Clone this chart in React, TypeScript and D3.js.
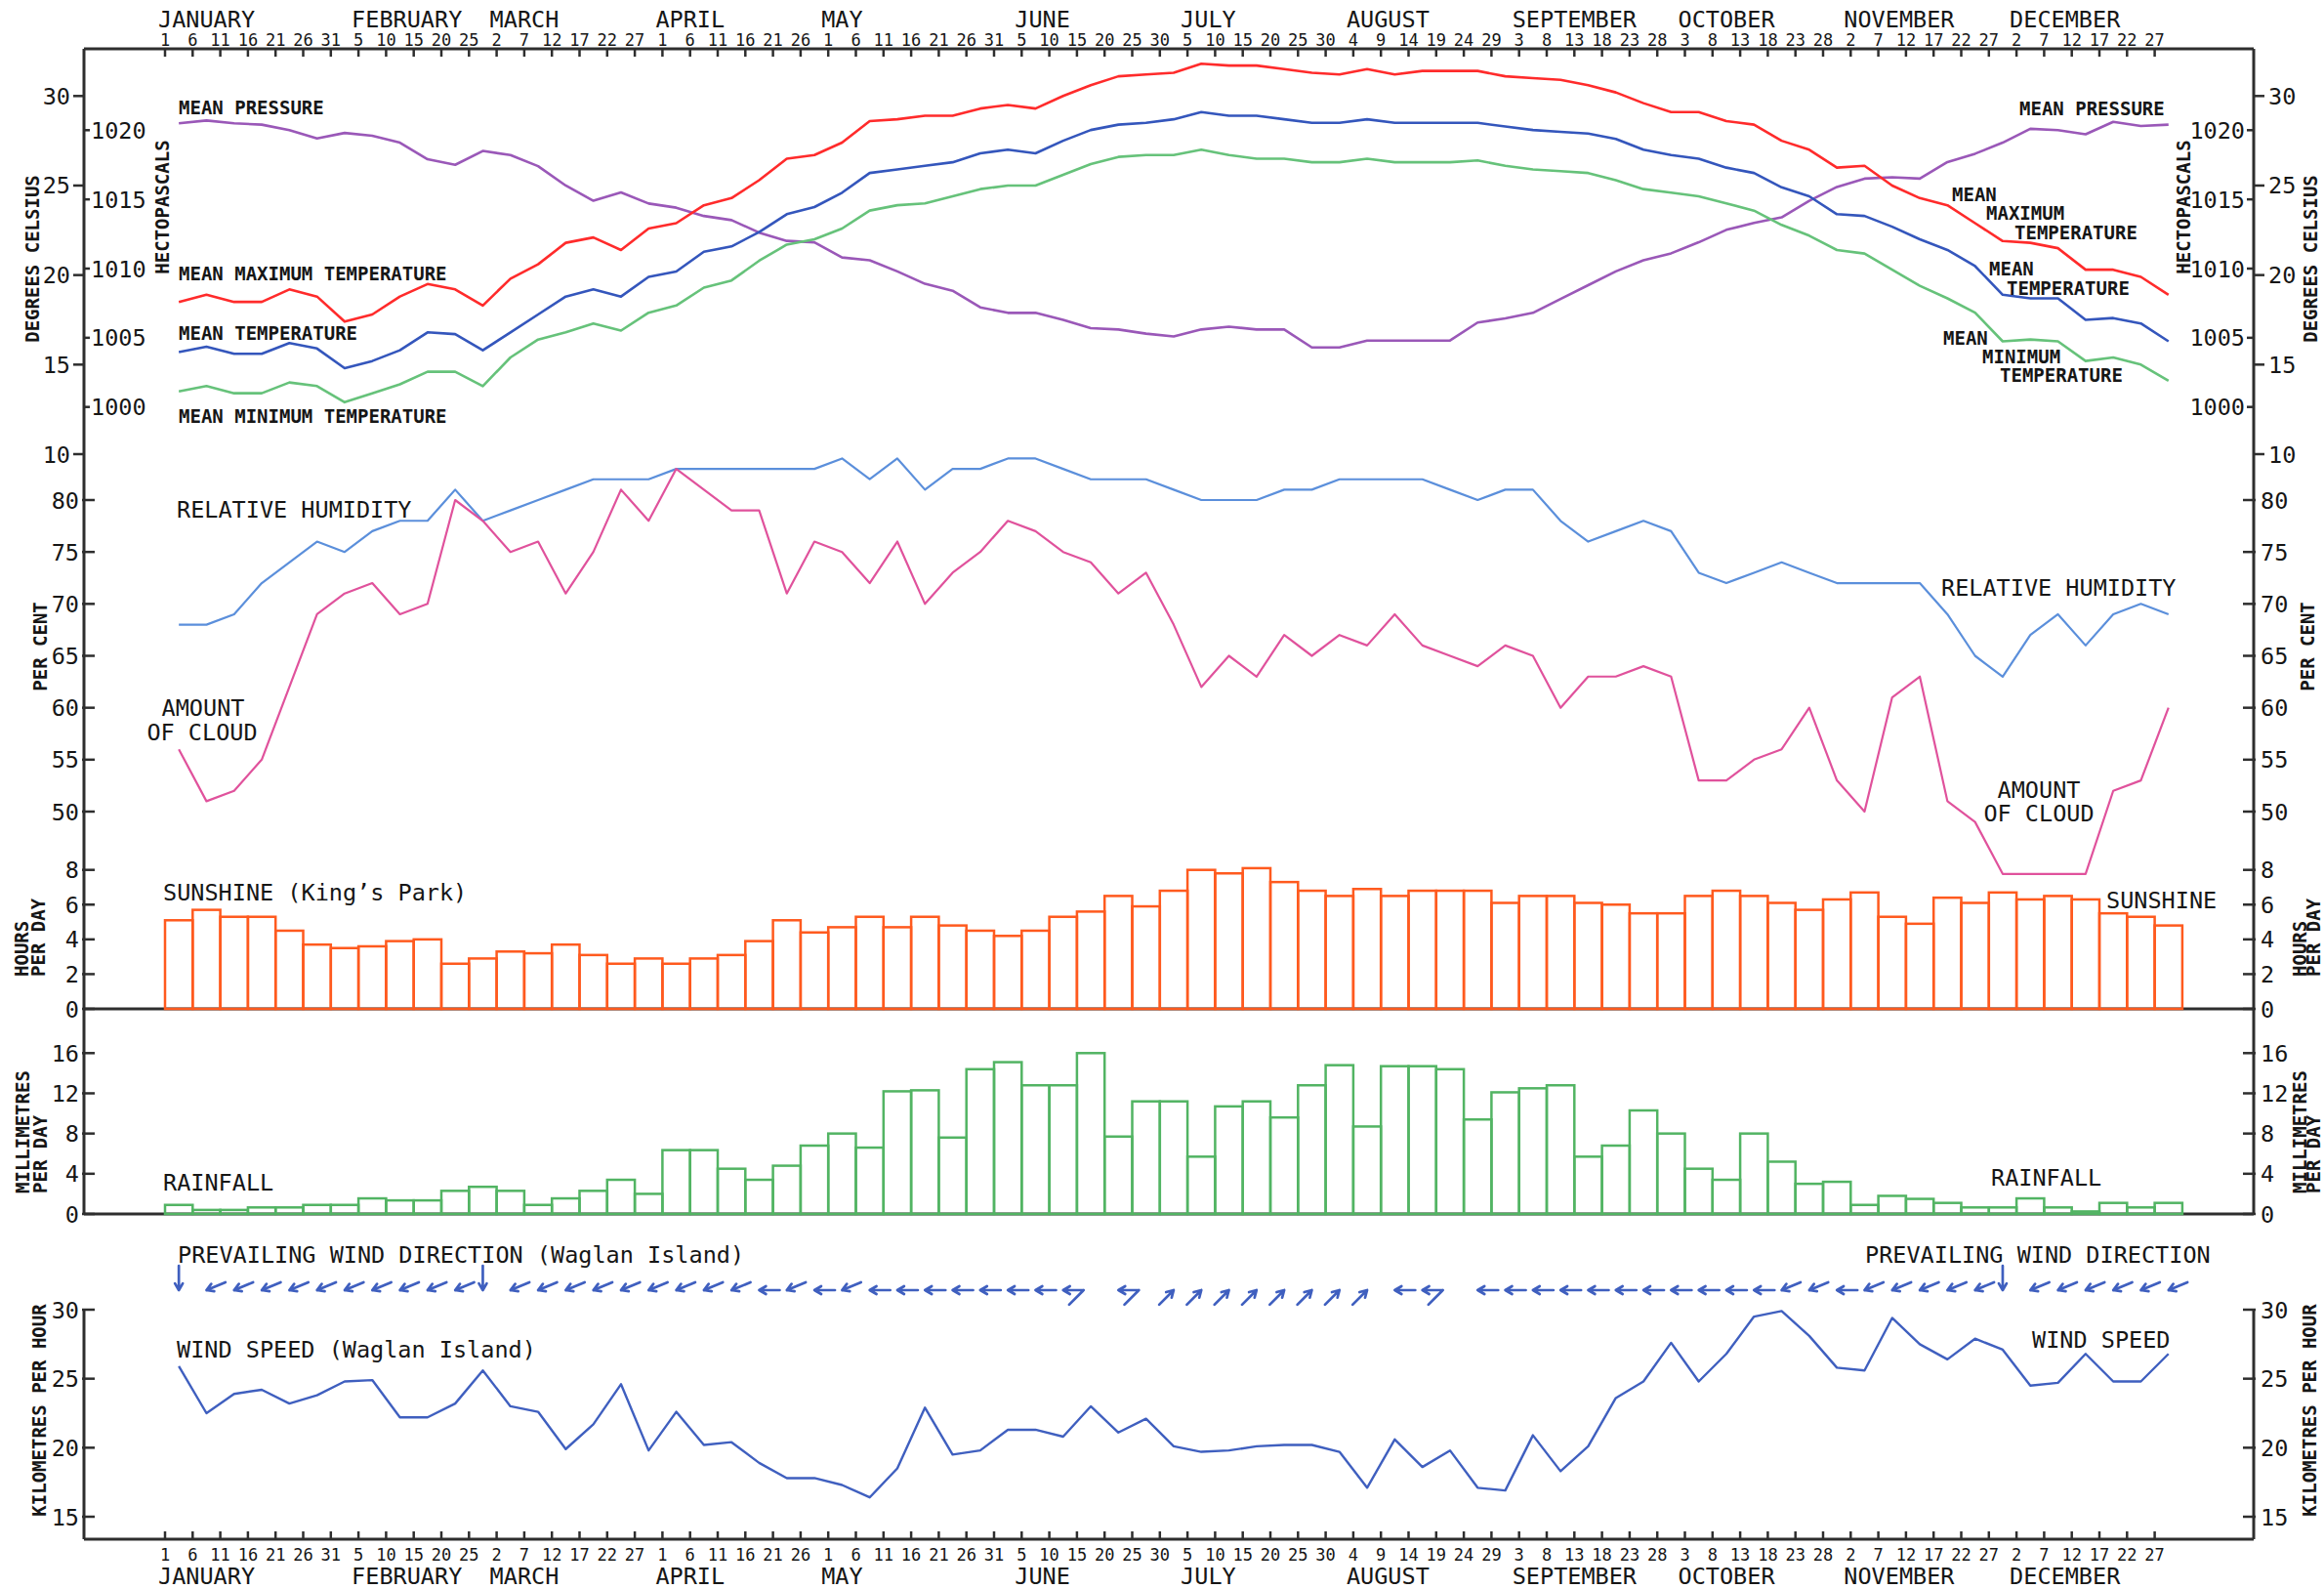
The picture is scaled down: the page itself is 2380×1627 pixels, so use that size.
import React from 'react';
import * as d3 from 'd3';

// pentad climatology, 73 five-day periods
const months = ['JANUARY', 'FEBRUARY', 'MARCH', 'APRIL', 'MAY', 'JUNE', 'JULY', 'AUGUST', 'SEPTEMBER', 'OCTOBER', 'NOVEMBER', 'DECEMBER'];
const monthFirstTick = [0, 7, 12, 18, 24, 31, 37, 43, 49, 55, 61, 67];
const tickDays = [
  1, 6, 11, 16, 21, 26, 31, 5, 10, 15, 20, 25, 2, 7, 12, 17, 22, 27, 1, 6, 11, 16, 21, 26,
  1, 6, 11, 16, 21, 26, 31, 5, 10, 15, 20, 25, 30, 5, 10, 15, 20, 25, 30, 4, 9, 14, 19, 24, 29,
  3, 8, 13, 18, 23, 28, 3, 8, 13, 18, 23, 28, 2, 7, 12, 17, 22, 27, 2, 7, 12, 17, 22, 27,
];

const meanMaxTemp = [
  18.5, 18.9, 18.5, 18.5, 19.2, 18.8, 17.4, 17.8, 18.8, 19.5, 19.2, 18.3, 19.8, 20.6, 21.8, 22.1, 21.4, 22.6, 22.9, 23.9,
  24.3, 25.3, 26.5, 26.7, 27.4, 28.6, 28.7, 28.9, 28.9, 29.3, 29.5, 29.3, 30.0, 30.6, 31.1, 31.2, 31.3, 31.8, 31.7, 31.7,
  31.5, 31.3, 31.2, 31.5, 31.2, 31.4, 31.4, 31.4, 31.1, 31.0, 30.9, 30.6, 30.2, 29.6, 29.1, 29.1, 28.6, 28.4, 27.5, 27.0,
  26.0, 26.1, 25.0, 24.3, 23.9, 22.9, 21.9, 21.8, 21.5, 20.3, 20.3, 19.9, 18.9,
];
const meanTemp = [
  15.7, 16.0, 15.6, 15.6, 16.2, 15.9, 14.8, 15.2, 15.8, 16.8, 16.7, 15.8, 16.8, 17.8, 18.8, 19.2, 18.8, 19.9, 20.2, 21.3,
  21.6, 22.4, 23.4, 23.8, 24.6, 25.7, 25.9, 26.1, 26.3, 26.8, 27.0, 26.8, 27.5, 28.1, 28.4, 28.5, 28.7, 29.1, 28.9, 28.9,
  28.7, 28.5, 28.5, 28.7, 28.5, 28.5, 28.5, 28.5, 28.3, 28.1, 28.0, 27.9, 27.6, 27.0, 26.7, 26.5, 26.0, 25.7, 24.9, 24.4,
  23.4, 23.3, 22.7, 22.0, 21.4, 20.5, 18.9, 18.7, 18.7, 17.5, 17.6, 17.3, 16.3,
];
const meanMinTemp = [
  13.5, 13.8, 13.4, 13.4, 14.0, 13.8, 12.9, 13.4, 13.9, 14.6, 14.6, 13.8, 15.4, 16.4, 16.8, 17.3, 16.9, 17.9, 18.3, 19.3,
  19.7, 20.8, 21.7, 22.0, 22.6, 23.6, 23.9, 24.0, 24.4, 24.8, 25.0, 25.0, 25.6, 26.2, 26.6, 26.7, 26.7, 27.0, 26.7, 26.5,
  26.5, 26.3, 26.3, 26.5, 26.3, 26.3, 26.3, 26.4, 26.1, 25.9, 25.8, 25.7, 25.3, 24.8, 24.6, 24.4, 24.0, 23.6, 22.8, 22.2,
  21.4, 21.2, 20.3, 19.4, 18.7, 17.9, 16.3, 16.4, 16.3, 15.2, 15.4, 15.0, 14.1,
];
const meanPressure = [
  1020.5, 1020.7, 1020.5, 1020.4, 1020.0, 1019.4, 1019.8, 1019.6, 1019.1, 1017.9, 1017.5, 1018.5, 1018.2, 1017.4, 1016.0,
  1014.9, 1015.5, 1014.7, 1014.4, 1013.8, 1013.5, 1012.6, 1012.0, 1011.9, 1010.8, 1010.6, 1009.8, 1008.9, 1008.4, 1007.2,
  1006.8, 1006.8, 1006.3, 1005.7, 1005.6, 1005.3, 1005.1, 1005.6, 1005.8, 1005.6, 1005.6, 1004.3, 1004.3, 1004.8, 1004.8,
  1004.8, 1004.8, 1006.1, 1006.4, 1006.8, 1007.8, 1008.8, 1009.8, 1010.6, 1011.1, 1011.9, 1012.8, 1013.3, 1013.7, 1014.9,
  1015.9, 1016.5, 1016.6, 1016.5, 1017.7, 1018.3, 1019.1, 1020.1, 1020.0, 1019.7, 1020.6, 1020.3, 1020.4,
];
const relHumidity = [
  68, 68, 69, 72, 74, 76, 75, 77, 78, 78, 81, 78, 79, 80, 81, 82, 82, 82, 83, 83, 83, 83, 83, 83, 84, 82, 84, 81, 83, 83,
  84, 84, 83, 82, 82, 82, 81, 80, 80, 80, 81, 81, 82, 82, 82, 82, 81, 80, 81, 81, 78, 76, 77, 78, 77, 73, 72, 73, 74, 73,
  72, 72, 72, 72, 69, 65, 63, 67, 69, 66, 69, 70, 69,
];
const cloudAmount = [
  56, 51, 52, 55, 62, 69, 71, 72, 69, 70, 80, 78, 75, 76, 71, 75, 81, 78, 83, 81, 79, 79, 71, 76, 75, 72, 76, 70, 73, 75,
  78, 77, 75, 74, 71, 73, 68, 62, 65, 63, 67, 65, 67, 66, 69, 66, 65, 64, 66, 65, 60, 63, 63, 64, 63, 53, 53, 55, 56, 60,
  53, 50, 61, 63, 51, 49, 44, 44, 44, 44, 52, 53, 60,
];
const sunshine = [
  5.1, 5.7, 5.3, 5.3, 4.5, 3.7, 3.5, 3.6, 3.9, 4.0, 2.6, 2.9, 3.3, 3.2, 3.7, 3.1, 2.6, 2.9, 2.6, 2.9, 3.1, 3.9, 5.1, 4.4,
  4.7, 5.3, 4.7, 5.3, 4.8, 4.5, 4.2, 4.5, 5.3, 5.6, 6.5, 5.9, 6.8, 8.0, 7.8, 8.1, 7.3, 6.8, 6.5, 6.9, 6.5, 6.8, 6.8, 6.8,
  6.1, 6.5, 6.5, 6.1, 6.0, 5.5, 5.5, 6.5, 6.8, 6.5, 6.1, 5.7, 6.3, 6.7, 5.3, 4.9, 6.4, 6.1, 6.7, 6.3, 6.5, 6.3, 5.5, 5.3, 4.8,
];
const rainfall = [
  0.9, 0.4, 0.4, 0.65, 0.65, 0.9, 0.9, 1.55, 1.35, 1.35, 2.3, 2.7, 2.3, 0.9, 1.55, 2.3, 3.4, 2.0, 6.35, 6.35, 4.5, 3.4,
  4.8, 6.8, 8.0, 6.6, 12.2, 12.3, 7.6, 14.4, 15.1, 12.8, 12.8, 16.0, 7.7, 11.2, 11.2, 5.7, 10.7, 11.2, 9.6, 12.8, 14.8,
  8.7, 14.7, 14.7, 14.4, 9.4, 12.1, 12.5, 12.8, 5.7, 6.8, 10.3, 8.0, 4.5, 3.4, 8.0, 5.2, 3.0, 3.2, 0.9, 1.8, 1.5, 1.1,
  0.65, 0.65, 1.55, 0.65, 0.25, 1.1, 0.65, 1.1,
];
const windSpeed = [
  25.9, 22.5, 23.9, 24.2, 23.2, 23.8, 24.8, 24.9, 22.2, 22.2, 23.2, 25.6, 23.0, 22.6, 19.9, 21.7, 24.6, 19.8, 22.6, 20.2,
  20.4, 18.9, 17.8, 17.8, 17.3, 16.4, 18.5, 22.9, 19.5, 19.8, 21.3, 21.3, 20.8, 23.0, 21.1, 22.1, 20.1, 19.7, 19.8, 20.1,
  20.2, 20.2, 19.7, 17.1, 20.6, 18.6, 19.8, 17.1, 16.9, 20.9, 18.3, 20.1, 23.6, 24.8, 27.6, 24.8, 26.8, 29.5, 29.9, 28.1,
  25.8, 25.6, 29.4, 27.5, 26.4, 27.9, 27.1, 24.5, 24.7, 26.8, 24.8, 24.8, 26.8,
];
const windDir = [
  'N', 'ENE', 'ENE', 'ENE', 'ENE', 'ENE', 'ENE', 'ENE', 'ENE', 'ENE', 'ENE', 'N',
  'ENE', 'ENE', 'ENE', 'ENE', 'ENE', 'ENE', 'ENE', 'ENE', 'ENE', 'E', 'ENE', 'E', 'ENE',
  'E', 'E', 'E', 'E', 'E', 'E', 'E', 'E/SW', '', 'E/SW', '',
  'SW', 'SW', 'SW', 'SW', 'SW', 'SW', 'SW', 'SW', 'E', 'E/SW', '',
  'E', 'E', 'E', 'E', 'E', 'E', 'E', 'E', 'E', 'E', 'E', 'ENE', 'ENE', 'E', 'ENE', 'ENE', 'ENE', 'ENE', 'ENE',
  'N', 'ENE', 'ENE', 'ENE', 'ENE', 'ENE', 'ENE',
];
const compass: Record<string, number> = { N: 0, ENE: 67.5, E: 90, SW: 225 };

const celsiusTicks = [10, 15, 20, 25, 30];
const hpaTicks = [1000, 1005, 1010, 1015, 1020];
const humidityTicks = [50, 55, 60, 65, 70, 75, 80];
const sunTicks = [0, 2, 4, 6, 8];
const rainTicks = [0, 4, 8, 12, 16];
const windTicks = [15, 20, 25, 30];

const FONT = "'DejaVu Sans Mono', 'Liberation Mono', monospace";
const INK = '#161616';
const AXIS = '#2e2e2e';
const LEFT = 86;
const RIGHT = 2308;
const BIG = 23.5;
const SMALL = 19;

const x = d3.scaleLinear().domain([0, 73]).range([169, 169 + 73 * 28.3]);
const mid = (i: number) => x(i + 0.5);
const barW = x(1) - x(0);

const yC = d3.scaleLinear().domain([10, 30]).range([465, 98.3]);
const yP = d3.scaleLinear().domain([1000, 1020]).range([416.7, 133.3]);
const yH = d3.scaleLinear().domain([50, 80]).range([831, 512]);
const yS = d3.scaleLinear().domain([0, 8]).range([1033, 890.7]);
const yR = d3.scaleLinear().domain([0, 16]).range([1243, 1078.3]);
const yW = d3.scaleLinear().domain([15, 30]).range([1553, 1341]);

const seriesPath = (data: number[], y: d3.ScaleLinear<number, number>) =>
  d3.line<number>().x((_, i) => mid(i)).y(d => y(d))(data) || '';

function T({ x, y, children, size = BIG, bold = false, anchor = 'start' }: any) {
  return (
    <text x={x} y={y} fontSize={size} fontWeight={bold ? 'bold' : 'normal'} textAnchor={anchor} fontFamily={FONT} fill={INK}>
      {children}
    </text>
  );
}

function VT({ x, y, children, anchor = 'middle' }: any) {
  return (
    <text transform={`translate(${x + 7},${y}) rotate(-90)`} fontSize={SMALL} fontWeight="bold" textAnchor={anchor} fontFamily={FONT} fill={INK}>
      {children}
    </text>
  );
}

// tick marks + labels for one vertical scale on one side
function YTicks({ scale, ticks, x1, x2, lx, anchor }: any) {
  return (
    <g>
      {ticks.map((t: number) => (
        <g key={t}>
          <line x1={x1} x2={x2} y1={scale(t)} y2={scale(t)} stroke={AXIS} strokeWidth={2.5} />
          <T x={lx} y={scale(t) + 8.5} anchor={anchor}>{t}</T>
        </g>
      ))}
    </g>
  );
}

function arrow(px: number, py: number, deg: number, len: number) {
  const r = (deg * Math.PI) / 180;
  const vx = -Math.sin(r);
  const vy = Math.cos(r);
  const tx = px - len * vx;
  const ty = py - len * vy;
  const hb = 8;
  const a = Math.PI / 6;
  const bx = -vx;
  const by = -vy;
  const b1x = px + hb * (bx * Math.cos(a) - by * Math.sin(a));
  const b1y = py + hb * (bx * Math.sin(a) + by * Math.cos(a));
  const b2x = px + hb * (bx * Math.cos(-a) - by * Math.sin(-a));
  const b2y = py + hb * (bx * Math.sin(-a) + by * Math.cos(-a));
  return { d: `M${tx},${ty}L${px},${py}M${b1x},${b1y}L${px},${py}L${b2x},${b2y}`, tx, ty };
}

function WindArrows() {
  const py = 1321;
  return (
    <g stroke="#3f5fbf" strokeWidth={2.7} fill="none" strokeLinecap="round" strokeLinejoin="round">
      {windDir.map((d, i) => {
        if (!d) return null;
        const parts = d.split('/');
        const first = arrow(mid(i), py, compass[parts[0]], parts[0] === 'N' ? 25 : 21);
        let extra = '';
        if (parts[1]) {
          const r = (compass[parts[1]] * Math.PI) / 180;
          const ux = Math.sin(r);
          const uy = -Math.cos(r);
          extra = `M${first.tx},${first.ty}L${first.tx + 21 * ux},${first.ty + 21 * uy}`;
        }
        return <path key={i} d={first.d + extra} />;
      })}
    </g>
  );
}

function Bars({ data, y, color }: any) {
  return (
    <g fill="none" stroke={color} strokeWidth={2.5}>
      {data.map((v: number, i: number) => (
        <rect key={i} x={x(i)} y={y(v)} width={barW} height={y(0) - y(v)} />
      ))}
    </g>
  );
}

function TimeAxis({ y, dir, dayY, monY }: any) {
  return (
    <g>
      <line x1={LEFT} x2={RIGHT} y1={y} y2={y} stroke={AXIS} strokeWidth={3} />
      {tickDays.map((d, i) => (
        <g key={i}>
          <line x1={x(i)} x2={x(i)} y1={y} y2={y + dir * 8} stroke={AXIS} strokeWidth={2.5} />
          <T x={x(i)} y={dayY} size={17} anchor="middle">{d}</T>
        </g>
      ))}
      {months.map((m, k) => (
        <T key={m} x={x(monthFirstTick[k]) - 7} y={monY}>{m}</T>
      ))}
    </g>
  );
}

export default function App() {
  return (
    <svg width={2380} height={1627} style={{ position: 'absolute', left: 0, top: 0, background: '#fff' }}>
      <rect width={2380} height={1627} fill="#fff" />

      {/* frame */}
      <g stroke={AXIS} strokeWidth={3}>
        <line x1={LEFT} x2={LEFT} y1={50} y2={1243} />
        <line x1={RIGHT} x2={RIGHT} y1={50} y2={1243} />
        <line x1={LEFT} x2={LEFT} y1={1341} y2={1576} />
        <line x1={RIGHT} x2={RIGHT} y1={1341} y2={1576} />
        <line x1={LEFT} x2={RIGHT} y1={1033} y2={1033} />
        <line x1={LEFT} x2={RIGHT} y1={1243} y2={1243} />
      </g>
      <TimeAxis y={50} dir={1} dayY={47} monY={28} />
      <TimeAxis y={1576} dir={-1} dayY={1598} monY={1622} />

      {/* temperature and pressure */}
      <YTicks scale={yC} ticks={celsiusTicks} x1={75} x2={LEFT} lx={72} anchor="end" />
      <YTicks scale={yP} ticks={hpaTicks} x1={LEFT} x2={92} lx={93} anchor="start" />
      <YTicks scale={yP} ticks={hpaTicks} x1={2301} x2={RIGHT} lx={2299} anchor="end" />
      <YTicks scale={yC} ticks={celsiusTicks} x1={RIGHT} x2={2319} lx={2323} anchor="start" />
      <VT x={33} y={265}>DEGREES CELSIUS</VT>
      <VT x={166} y={212}>HECTOPASCALS</VT>
      <VT x={2236} y={212}>HECTOPASCALS</VT>
      <VT x={2366} y={265}>DEGREES CELSIUS</VT>

      <g fill="none" strokeWidth={2.6} strokeLinejoin="round">
        <path d={seriesPath(meanPressure, yP)} stroke="#9a58b8" />
        <path d={seriesPath(meanMaxTemp, yC)} stroke="#ff2b2b" />
        <path d={seriesPath(meanTemp, yC)} stroke="#3456bc" />
        <path d={seriesPath(meanMinTemp, yC)} stroke="#66c27a" />
      </g>
      <T x={183} y={117} size={SMALL} bold>MEAN PRESSURE</T>
      <T x={183} y={287} size={SMALL} bold>MEAN MAXIMUM TEMPERATURE</T>
      <T x={183} y={348} size={SMALL} bold>MEAN TEMPERATURE</T>
      <T x={183} y={433} size={SMALL} bold>MEAN MINIMUM TEMPERATURE</T>
      <T x={2068} y={118} size={SMALL} bold>MEAN PRESSURE</T>
      <T x={1999} y={206} size={SMALL} bold>MEAN</T>
      <T x={2034} y={225} size={SMALL} bold>MAXIMUM</T>
      <T x={2063} y={245} size={SMALL} bold>TEMPERATURE</T>
      <T x={2037} y={282} size={SMALL} bold>MEAN</T>
      <T x={2055} y={302} size={SMALL} bold>TEMPERATURE</T>
      <T x={1990} y={353} size={SMALL} bold>MEAN</T>
      <T x={2030} y={372} size={SMALL} bold>MINIMUM</T>
      <T x={2048} y={391} size={SMALL} bold>TEMPERATURE</T>

      {/* humidity and cloud */}
      <YTicks scale={yH} ticks={humidityTicks} x1={LEFT - 2} x2={97} lx={81} anchor="end" />
      <YTicks scale={yH} ticks={humidityTicks} x1={2297} x2={RIGHT + 2} lx={2315} anchor="start" />
      <VT x={41} y={662}>PER CENT</VT>
      <VT x={2363} y={662}>PER CENT</VT>
      <g fill="none" strokeWidth={2.2} strokeLinejoin="round">
        <path d={seriesPath(relHumidity, yH)} stroke="#5b8fdb" />
        <path d={seriesPath(cloudAmount, yH)} stroke="#e0529c" />
      </g>
      <T x={181} y={530}>RELATIVE HUMIDITY</T>
      <T x={1988} y={610}>RELATIVE HUMIDITY</T>
      <T x={208} y={733} anchor="middle">AMOUNT</T>
      <T x={207} y={758} anchor="middle">OF CLOUD</T>
      <T x={2088} y={817} anchor="middle">AMOUNT</T>
      <T x={2088} y={841} anchor="middle">OF CLOUD</T>

      {/* sunshine */}
      <YTicks scale={yS} ticks={sunTicks} x1={LEFT - 2} x2={97} lx={81} anchor="end" />
      <YTicks scale={yS} ticks={sunTicks} x1={2297} x2={RIGHT + 2} lx={2315} anchor="start" />
      <VT x={22} y={1000} anchor="start">HOURS</VT>
      <VT x={39} y={1000} anchor="start">PER DAY</VT>
      <VT x={2355} y={1000} anchor="start">HOURS</VT>
      <VT x={2369} y={1000} anchor="start">PER DAY</VT>
      <Bars data={sunshine} y={yS} color="#ff5a1e" />
      <T x={167} y={922}>SUNSHINE (King’s Park)</T>
      <T x={2157} y={930}>SUNSHINE</T>

      {/* rainfall */}
      <YTicks scale={yR} ticks={rainTicks} x1={LEFT - 2} x2={97} lx={81} anchor="end" />
      <YTicks scale={yR} ticks={rainTicks} x1={2297} x2={RIGHT + 2} lx={2315} anchor="start" />
      <VT x={23} y={1222} anchor="start">MILLIMETRES</VT>
      <VT x={41} y={1222} anchor="start">PER DAY</VT>
      <VT x={2355} y={1222} anchor="start">MILLIMETRES</VT>
      <VT x={2369} y={1222} anchor="start">PER DAY</VT>
      <Bars data={rainfall} y={yR} color="#52b463" />
      <T x={167} y={1219}>RAINFALL</T>
      <T x={2039} y={1214}>RAINFALL</T>

      {/* wind */}
      <T x={182} y={1293}>PREVAILING WIND DIRECTION (Waglan Island)</T>
      <T x={1910} y={1293}>PREVAILING WIND DIRECTION</T>
      <WindArrows />
      <YTicks scale={yW} ticks={windTicks} x1={LEFT - 2} x2={97} lx={81} anchor="end" />
      <YTicks scale={yW} ticks={windTicks} x1={2297} x2={RIGHT + 2} lx={2315} anchor="start" />
      <VT x={40} y={1444}>KILOMETRES PER HOUR</VT>
      <VT x={2365} y={1444}>KILOMETRES PER HOUR</VT>
      <path d={seriesPath(windSpeed, yW)} fill="none" stroke="#3f5fbf" strokeWidth={2.4} strokeLinejoin="round" />
      <T x={181} y={1390}>WIND SPEED (Waglan Island)</T>
      <T x={2081} y={1380}>WIND SPEED</T>
    </svg>
  );
}
